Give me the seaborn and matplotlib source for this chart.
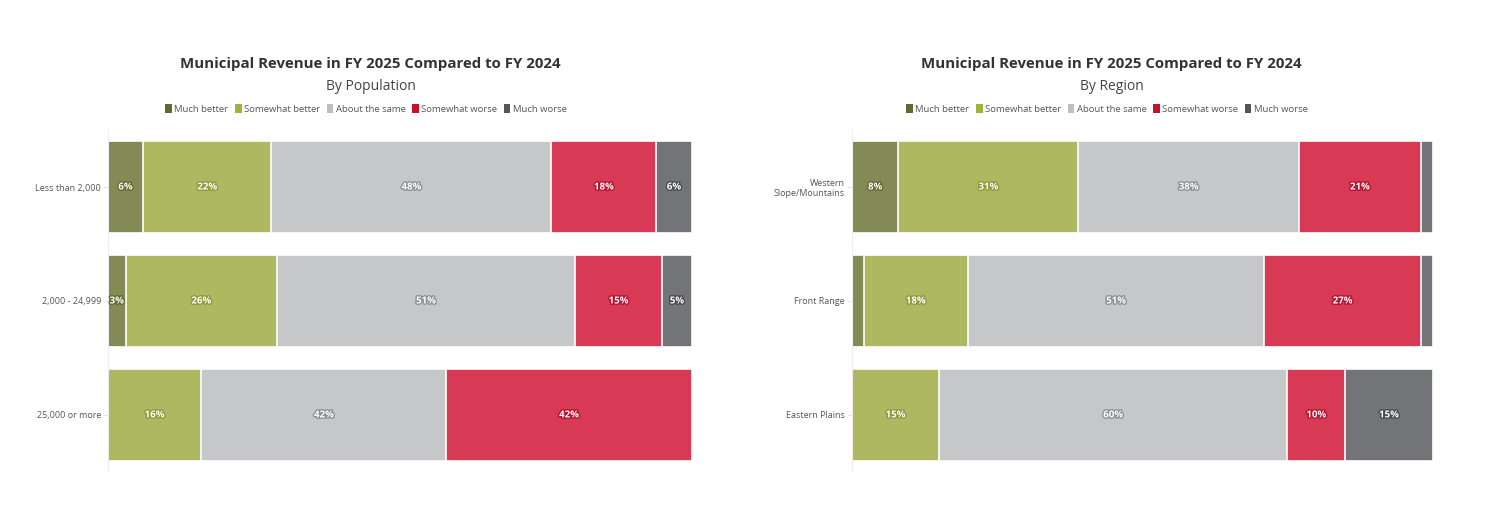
import numpy as np
import pandas as pd
import matplotlib
matplotlib.use("Agg")
import matplotlib.pyplot as plt
import matplotlib.patheffects as pe
from matplotlib.patches import Patch
import seaborn as sns

##### DATA
responses = ["Much better", "Somewhat better", "About the same", "Somewhat worse", "Much worse"]

popGroups = ["Less than 2,000", "2,000 - 24,999", "25,000 or more"]
popMuchBetter = [6, 3, 0]
popSomewhatBetter = [22, 26, 16]
popSame = [48, 51, 42]
popSomewhatWorse = [18, 15, 42]
popMuchWorse = [6, 5, 0]

regGroups = ["Western\nSlope/Mountains", "Front Range", "Eastern Plains"]
regMuchBetter = [8, 2, 0]
regSomewhatBetter = [31, 18, 15]
regSame = [38, 51, 60]
regSomewhatWorse = [21, 27, 10]
regMuchWorse = [2, 2, 15]

#bar colours, legend swatch colours, label outline colours
barColours = ["#848a55", "#aeb860", "#c6c7c9", "#d83a56", "#737477"]
legendColours = ["#5f6a2c", "#a4b23c", "#bfbfbf", "#c8102e", "#555559"]
strokeColours = ["#5f6a2c", "#8e9a3a", "#8f9092", "#b5102e", "#4a4a4d"]

##### SET-UP
sns.set_theme(style = "white")
plt.rcParams["font.family"] = ["Open Sans", "DejaVu Sans"]

fig = plt.figure(figsize = (15, 5.08), dpi = 100)
axLeft = fig.add_axes([0.072, 0.071, 0.389, 0.673])
axRight = fig.add_axes([0.568, 0.071, 0.387, 0.673])


### Stacked horizontal bars: draw cumulative sums from the back to the front
def stackedBars(ax, groups, series):
    values = np.array(series).T  # rows = groups
    cumulative = values.cumsum(axis = 1)
    for i in reversed(range(len(responses))):
        df = pd.DataFrame({"group": groups, "total": cumulative[:, i]})
        sns.barplot(data = df, x = "total", y = "group", orient = "h", color = barColours[i],
                    width = 0.8, edgecolor = "white", linewidth = 1.2, saturation = 1, ax = ax)
    #percentage labels in the middle of each segment
    for r in range(len(groups)):
        for i in range(len(responses)):
            v = values[r, i]
            if v < 3:
                continue
            mid = cumulative[r, i] - v / 2
            ax.text(mid, r, "{0}%".format(v), ha = "center", va = "center", color = "white",
                    fontsize = 7, fontweight = "bold",
                    path_effects = [pe.withStroke(linewidth = 2, foreground = strokeColours[i])])
    ax.set_xlim(0, 100)
    ax.set_ylim(2.5, -0.5)
    ax.set_xlabel("")
    ax.set_ylabel("")
    ax.set_xticks([])
    ax.tick_params(axis = "y", length = 3, width = 0.6, color = "#dddddd", labelsize = 6.5,
                   labelcolor = "#555555", pad = 2, left = True)
    for s in ["top", "right", "bottom"]:
        ax.spines[s].set_visible(False)
    ax.spines["left"].set_color("#eeeeee")
    ax.spines["left"].set_linewidth(0.8)


stackedBars(axLeft, popGroups, [popMuchBetter, popSomewhatBetter, popSame, popSomewhatWorse, popMuchWorse])
stackedBars(axRight, regGroups, [regMuchBetter, regSomewhatBetter, regSame, regSomewhatWorse, regMuchWorse])


### Titles and legends
def header(xc, subtitle):
    fig.text(xc, 0.874, "Municipal Revenue in FY 2025 Compared to FY 2024", ha = "center",
             va = "center", fontsize = 10.8, fontweight = "bold", color = "#333333")
    fig.text(xc, 0.830, subtitle, ha = "center", va = "center", fontsize = 10, color = "#444444")
    handles = [Patch(facecolor = c, edgecolor = "none", label = l) for c, l in zip(legendColours, responses)]
    fig.legend(handles = handles, loc = "center", bbox_to_anchor = (xc - 0.003, 0.785), ncol = 5,
               frameon = False, fontsize = 6.8, handlelength = 0.7, handleheight = 1.0,
               handletextpad = 0.25, columnspacing = 0.7, labelcolor = "#555555")


header(0.247, "By Population")
header(0.741, "By Region")

plt.savefig("out.png", dpi = 100)
